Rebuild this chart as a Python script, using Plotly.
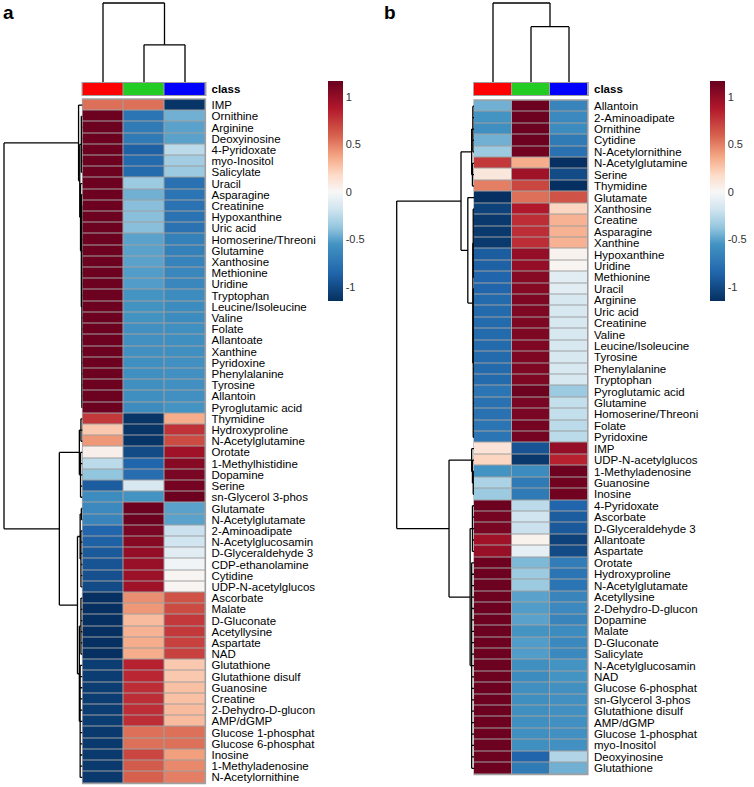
import plotly.graph_objects as go

W, H = 754, 787

# ---------------- data: panel a ----------------
rows_a = ["IMP", "Ornithine", "Arginine", "Deoxyinosine", "4-Pyridoxate", "myo-Inositol",
          "Salicylate", "Uracil", "Asparagine", "Creatinine", "Hypoxanthine", "Uric acid",
          "Homoserine/Threoni", "Glutamine", "Xanthosine", "Methionine", "Uridine",
          "Tryptophan", "Leucine/Isoleucine", "Valine", "Folate", "Allantoate", "Xanthine",
          "Pyridoxine", "Phenylalanine", "Tyrosine", "Allantoin", "Pyroglutamic acid",
          "Thymidine", "Hydroxyproline", "N-Acetylglutamine", "Orotate", "1-Methylhistidine",
          "Dopamine", "Serine", "sn-Glycerol 3-phos", "Glutamate", "N-Acetylglutamate",
          "2-Aminoadipate", "N-Acetylglucosamin", "D-Glyceraldehyde 3", "CDP-ethanolamine",
          "Cytidine", "UDP-N-acetylglucos", "Ascorbate", "Malate", "D-Gluconate",
          "Acetyllysine", "Aspartate", "NAD", "Glutathione", "Glutathione disulf",
          "Guanosine", "Creatine", "2-Dehydro-D-glucon", "AMP/dGMP", "Glucose 1-phosphat",
          "Glucose 6-phosphat", "Inosine", "1-Methyladenosine", "N-Acetylornithine"]
red_a = [0.55, 1.15, 1.15, 1.15, 1.15, 1.15, 1.15, 1.15, 1.15, 1.15, 1.15, 1.15,
         1.15, 1.15, 1.15, 1.15, 1.15, 1.15, 1.15, 1.15, 1.15, 1.15, 1.15, 1.15,
         1.15, 1.15, 1.15, 1.15,
         0.75, 0.25, 0.42, 0.05, -0.25, -0.38, -0.9, -0.6,
         -0.62, -0.65, -0.85, -0.88, -0.92, -0.95, -0.97, -1.0,
         -1.15, -1.15, -1.15, -1.15, -1.15, -1.15,
         -1.08, -1.08, -1.08, -1.08, -1.08, -1.08, -1.1, -1.1, -1.1, -1.1, -1.1]
green_a = [0.55, -0.75, -0.72, -0.72, -0.88, -0.82, -0.82, -0.35, -0.45, -0.4, -0.4, -0.4,
           -0.5, -0.5, -0.5, -0.52, -0.52, -0.55, -0.56, -0.56, -0.57, -0.57, -0.57, -0.58,
           -0.58, -0.58, -0.58, -0.6,
           -1.12, -1.12, -1.12, -1.0, -0.85, -0.8, -0.15, -0.55,
           1.15, 1.15, 1.1, 1.05, 1.0, 0.98, 0.97, 0.95,
           0.45, 0.42, 0.3, 0.33, 0.35, 0.35,
           0.85, 0.82, 0.8, 0.8, 0.8, 0.8, 0.55, 0.55, 0.7, 0.62, 0.6]
blue_a = [-1.12, -0.45, -0.5, -0.5, -0.25, -0.33, -0.35, -0.78, -0.75, -0.77, -0.77, -0.77,
          -0.68, -0.68, -0.66, -0.63, -0.63, -0.6, -0.6, -0.6, -0.58, -0.58, -0.58, -0.57,
          -0.57, -0.57, -0.57, -0.55,
          0.35, 0.78, 0.68, 0.95, 1.05, 1.1, 1.12, 1.15,
          -0.5, -0.5, -0.2, -0.18, -0.1, -0.03, 0.02, 0.02,
          0.65, 0.68, 0.75, 0.75, 0.72, 0.72,
          0.25, 0.25, 0.28, 0.28, 0.3, 0.3, 0.55, 0.55, 0.4, 0.47, 0.5]

# ---------------- data: panel b ----------------
rows_b = ["Allantoin", "2-Aminoadipate", "Ornithine", "Cytidine", "N-Acetylornithine",
          "N-Acetylglutamine", "Serine", "Thymidine", "Glutamate", "Xanthosine", "Creatine",
          "Asparagine", "Xanthine", "Hypoxanthine", "Uridine", "Methionine", "Uracil",
          "Arginine", "Uric acid", "Creatinine", "Valine", "Leucine/Isoleucine", "Tyrosine",
          "Phenylalanine", "Tryptophan", "Pyroglutamic acid", "Glutamine",
          "Homoserine/Threoni", "Folate", "Pyridoxine", "IMP", "UDP-N-acetylglucos",
          "1-Methyladenosine", "Guanosine", "Inosine", "4-Pyridoxate", "Ascorbate",
          "D-Glyceraldehyde 3", "Allantoate", "Aspartate", "Orotate", "Hydroxyproline",
          "N-Acetylglutamate", "Acetyllysine", "2-Dehydro-D-glucon", "Dopamine", "Malate",
          "D-Gluconate", "Salicylate", "N-Acetylglucosamin", "NAD", "Glucose 6-phosphat",
          "sn-Glycerol 3-phos", "Glutathione disulf", "AMP/dGMP", "Glucose 1-phosphat",
          "myo-Inositol", "Deoxyinosine", "Glutathione"]
red_b = [-0.45, -0.55, -0.58, -0.45, -0.35, 0.75, 0.1, 0.5,
         -1.15, -1.05, -1.1, -1.1, -1.1, -0.9, -0.88, -0.85, -0.85, -0.82, -0.82, -0.82,
         -0.82, -0.82, -0.82, -0.82, -0.82, -0.75, -0.78, -0.78, -0.75, -0.75,
         0.12, 0.2, -0.55, -0.3, -0.35,
         1.15, 1.12, 1.1, 0.95, 0.98, 1.15, 1.15, 1.15, 1.15, 1.15, 1.15, 1.15,
         1.15, 1.15, 1.15, 1.15, 1.15, 1.15, 1.15, 1.15, 1.15, 1.15, 1.15, 1.15]
green_b = [1.15, 1.15, 1.15, 1.15, 1.13, 0.35, 0.95, 0.7,
           0.55, 0.88, 0.8, 0.8, 0.8, 1.0, 1.0, 1.05, 1.05, 1.08, 1.08, 1.08,
           1.08, 1.08, 1.08, 1.08, 1.08, 1.15, 1.1, 1.1, 1.12, 1.12,
           -0.95, -1.1, -0.6, -0.72, -0.72,
           -0.25, -0.18, -0.2, 0.04, -0.08, -0.42, -0.35, -0.35, -0.5, -0.52, -0.5, -0.55,
           -0.52, -0.52, -0.58, -0.6, -0.58, -0.58, -0.58, -0.58, -0.58, -0.58, -0.85, -0.72]
blue_b = [-0.65, -0.62, -0.6, -0.72, -0.78, -1.15, -1.0, -1.15,
          0.65, 0.2, 0.33, 0.33, 0.33, 0.03, 0.02, -0.1, -0.1, -0.15, -0.15, -0.15,
          -0.15, -0.15, -0.15, -0.15, -0.15, -0.35, -0.22, -0.22, -0.25, -0.25,
          1.0, 0.85, 1.15, 1.13, 1.13,
          -0.85, -0.9, -0.92, -1.05, -1.0, -0.7, -0.75, -0.75, -0.65, -0.62, -0.65, -0.6,
          -0.62, -0.62, -0.55, -0.55, -0.57, -0.57, -0.57, -0.57, -0.57, -0.57, -0.28, -0.45]

class_colors = ["#FF0000", "#22CC22", "#0000FF"]

# dendrograms: [height, child, child, ...]; ints are leaf indices
tree_rows_a = [1.0,
               [0.05, 0, [0.035, [0.015, 1, 2, 3, 4, 5, 6],
                          [0.025, 7, [0.015, 8, [0.008] + list(range(9, 28))]]]],
               [0.295,
                [0.04, [0.02, 28, 29, 30], [0.025, 31, 32, 33, 34, 35]],
                [0.064, [0.03, [0.015, 36, 37], [0.02, 38, 39, 40, 41, 42, 43]],
                 [0.04, [0.02, 44, 45, 46, 47, 48, 49], [0.03] + list(range(50, 61))]]]]
tree_cols_a = [1.0, 0, [0.47, 1, 2]]

tree_rows_b = [1.0,
               [0.168, [0.03, [0.015, 0, 1, 2, 3, 4], [0.02, 5, 6, 7]],
                [0.08, 8, [0.015, [0.01] + list(range(9, 16)), [0.01] + list(range(16, 30))]]],
               [0.323,
                [0.03, 30, [0.02, 31, [0.01, 32, 33, 34]]],
                [0.05, [0.02, 35, 36, 37, 38, 39], [0.03] + list(range(40, 59))]]]
tree_cols_b = [1.0, 0, [0.70, 1, 2]]

cbar_ticks = [-1, -0.5, 0, 0.5, 1]
zmin, zmax = -1.15, 1.17

# colour stops (value, colour) of the diverging palette
stop_values = [-1.15, -0.85, -0.55, -0.38, -0.18, 0.0, 0.18, 0.38, 0.6, 0.88, 1.17]
stop_colors = ["#053061", "#2166AC", "#4393C3", "#92C5DE", "#D1E5F0", "#F7F7F7",
               "#FDDBC7", "#F4A582", "#D6604D", "#B2182B", "#67001F"]
colorscale = [[(v - zmin) / (zmax - zmin), c] for v, c in zip(stop_values, stop_colors)]

FONT = "Liberation Sans, Arial, sans-serif"


def px_x(p):
    return p / W


def px_y(p):
    return 1 - p / H


def dendro(node):
    hs, ps = [], []

    def rec(n):
        if isinstance(n, int):
            return float(n), 0.0
        h = n[0]
        res = [rec(c) for c in n[1:]]
        for p, ch in res:
            hs.extend([ch, h, None])
            ps.extend([p, p, None])
        pp = [p for p, _ in res]
        hs.extend([h, h, None])
        ps.extend([min(pp), max(pp), None])
        return (res[0][0] + res[-1][0]) / 2, h

    rec(node)
    return hs, ps


fig = go.Figure()
layout = dict(width=W, height=H, margin=dict(l=0, r=0, t=0, b=0, autoexpand=False),
              autosize=False, template="none", plot_bgcolor="white",
              paper_bgcolor="white", showlegend=False, shapes=[], annotations=[])

hidden = dict(showgrid=False, zeroline=False, showline=False, showticklabels=False,
              ticks="", automargin=False)


def add_panel(k, names, r, g, b, tree_rows, tree_cols, x0, x1, y0, y1, dend_left,
              cb_x, label, label_x):
    n = len(names)
    ax = [str(k + i) if k + i > 1 else "" for i in range(4)]
    # heatmap
    fig.add_trace(go.Heatmap(
        z=[[r[i], g[i], b[i]] for i in range(n)], x=[0, 1, 2], y=list(range(n)),
        colorscale=colorscale, zmin=zmin, zmax=zmax, xgap=1, ygap=1,
        xaxis="x" + ax[0], yaxis="y" + ax[0], hoverinfo="skip",
        colorbar=dict(x=px_x(cb_x), xanchor="left", y=px_y(81), yanchor="top",
                      len=220, lenmode="pixels", thickness=15, thicknessmode="pixels",
                      xpad=0, ypad=0, outlinewidth=0, ticks="", ticklen=0,
                      tickvals=cbar_ticks, ticktext=[str(t) for t in cbar_ticks],
                      tickfont=dict(family=FONT, size=11, color="#333333"))))
    layout["xaxis" + ax[0]] = dict(domain=[px_x(x0), px_x(x1)], range=[-0.5, 2.5],
                                  anchor="y" + ax[0], **hidden)
    layout["yaxis" + ax[0]] = dict(domain=[px_y(y1), px_y(y0)], range=[n - 0.5, -0.5],
                                  anchor="x" + ax[0], side="right", showgrid=False,
                                  zeroline=False, showline=False, ticks="", ticklen=0,
                                  tickmode="array", tickvals=list(range(n)), ticktext=names,
                                  ticklabelstandoff=5, automargin=False,
                                  tickfont=dict(family=FONT, size=11.5, color="black"))
    layout["shapes"].append(dict(type="rect", xref="x" + ax[0] + " domain",
                                 yref="y" + ax[0] + " domain", x0=-0.005, x1=1.005,
                                 y0=-0.002, y1=1.002, fillcolor="#A0A0A0",
                                 line=dict(width=0), layer="below"))
    # class bar
    fig.add_trace(go.Heatmap(
        z=[[0, 1, 2]], x=[0, 1, 2], y=[0], zmin=0, zmax=2, showscale=False, xgap=1,
        colorscale=[[0, class_colors[0]], [0.25, class_colors[0]], [0.25, class_colors[1]],
                    [0.75, class_colors[1]], [0.75, class_colors[2]], [1, class_colors[2]]],
        xaxis="x" + ax[1], yaxis="y" + ax[1], hoverinfo="skip"))
    layout["xaxis" + ax[1]] = dict(domain=[px_x(x0), px_x(x1)], range=[-0.5, 2.5],
                                  anchor="y" + ax[1], **hidden)
    layout["yaxis" + ax[1]] = dict(domain=[px_y(95), px_y(83)], range=[0.5, -0.5],
                                  anchor="x" + ax[1], side="right", showgrid=False,
                                  zeroline=False, showline=False, ticks="", ticklen=0,
                                  tickmode="array", tickvals=[0], ticktext=["<b>class</b>"],
                                  ticklabelstandoff=5, automargin=False,
                                  tickfont=dict(family=FONT, size=11.5, color="black"))
    layout["shapes"].append(dict(type="rect", xref="x" + ax[1] + " domain",
                                 yref="y" + ax[1] + " domain", x0=-0.008, x1=1.008,
                                 y0=-0.08, y1=1.08, fillcolor="#A0A0A0",
                                 line=dict(width=0), layer="below"))
    # top dendrogram
    hs, ps = dendro(tree_cols)
    fig.add_trace(go.Scatter(x=ps, y=hs, mode="lines", line=dict(color="black", width=1.3),
                             xaxis="x" + ax[2], yaxis="y" + ax[2], hoverinfo="skip"))
    top_leaf, top_root, pad = 82, 3, 0.03
    top_scale = (top_leaf - top_root)
    layout["xaxis" + ax[2]] = dict(domain=[px_x(x0), px_x(x1)], range=[-0.5, 2.5],
                                  anchor="y" + ax[2], **hidden)
    layout["yaxis" + ax[2]] = dict(domain=[px_y(top_leaf), px_y(top_root - pad * top_scale)],
                                  range=[0, 1 + pad], anchor="x" + ax[2], **hidden)
    # left dendrogram
    hs, ps = dendro(tree_rows)
    fig.add_trace(go.Scatter(x=hs, y=ps, mode="lines", line=dict(color="black", width=1.3),
                             xaxis="x" + ax[3], yaxis="y" + ax[3], hoverinfo="skip"))
    root_px, leaf_px = dend_left, x0
    sc = leaf_px - root_px
    layout["xaxis" + ax[3]] = dict(domain=[px_x(root_px - pad * sc), px_x(leaf_px)],
                                  range=[1 + pad, 0], anchor="y" + ax[3], **hidden)
    layout["yaxis" + ax[3]] = dict(domain=[px_y(y1), px_y(y0)], range=[n - 0.5, -0.5],
                                  anchor="x" + ax[3], **hidden)
    layout["annotations"].append(dict(text="<b>" + label + "</b>", x=px_x(label_x), y=px_y(12),
                                      xref="paper", yref="paper", xanchor="left",
                                      yanchor="middle", showarrow=False,
                                      font=dict(family=FONT, size=19, color="black")))


add_panel(1, rows_a, red_a, green_a, blue_a, tree_rows_a, tree_cols_a,
          82.5, 205.5, 99.5, 783, 4, 328, "a", 1)
add_panel(5, rows_b, red_b, green_b, blue_b, tree_rows_b, tree_cols_b,
          474, 588, 100.5, 774, 396.7, 709.5, "b", 382)

fig.update_layout(**layout)
fig.write_html("out.html", config={"displayModeBar": False},
               post_script="document.body.style.margin='0';"
                           "document.body.style.overflow='hidden';")
